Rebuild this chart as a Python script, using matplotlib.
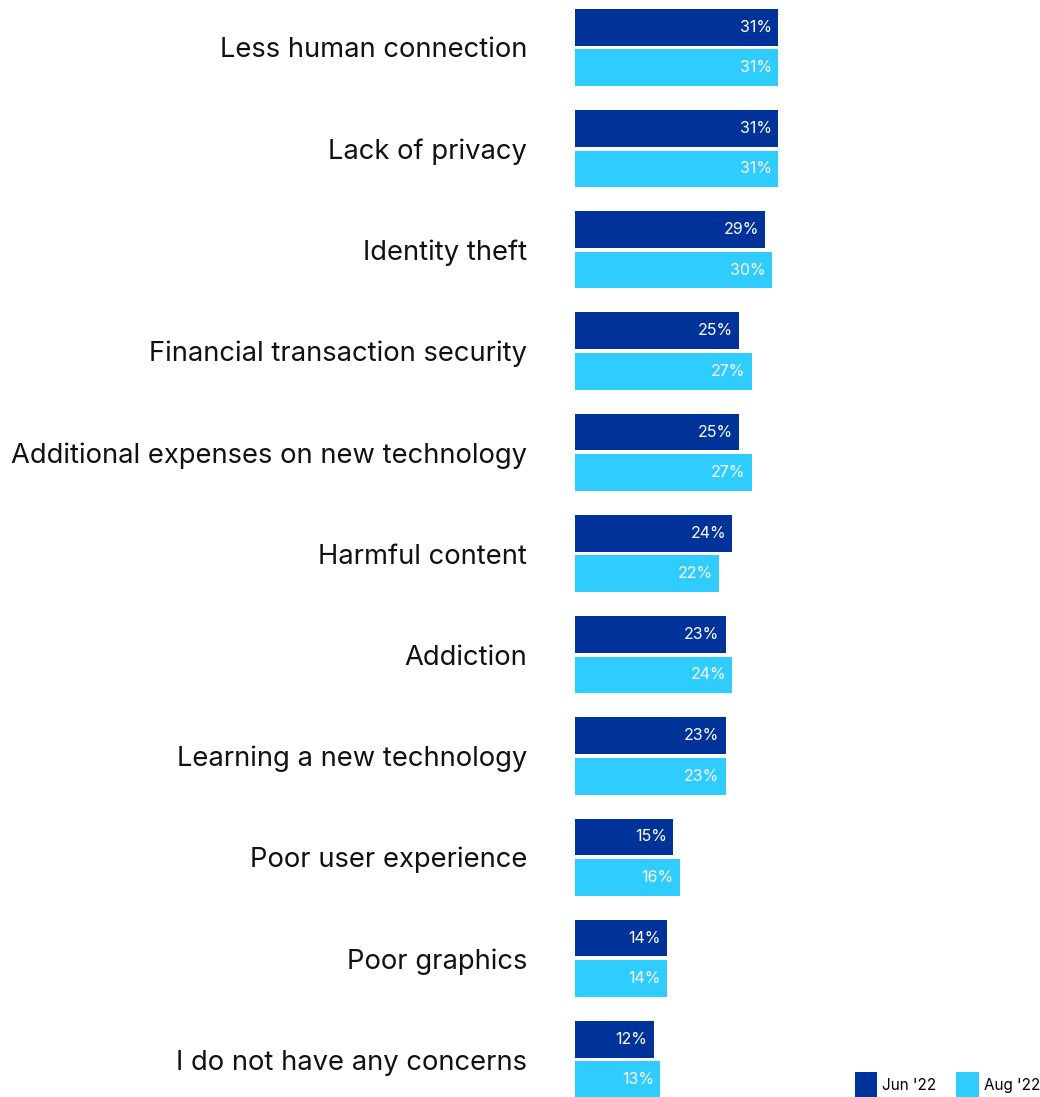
import matplotlib
matplotlib.use("Agg")
import matplotlib.pyplot as plt
from matplotlib.patches import Patch

plt.rcParams['font.family'] = ['Inter', 'DejaVu Sans']

categories = [
    "Less human connection",
    "Lack of privacy",
    "Identity theft",
    "Financial transaction security",
    "Additional expenses on new technology",
    "Harmful content",
    "Addiction",
    "Learning a new technology",
    "Poor user experience",
    "Poor graphics",
    "I do not have any concerns",
]
jun_22 = [31, 31, 29, 25, 25, 24, 23, 23, 15, 14, 12]
aug_22 = [31, 31, 30, 27, 27, 22, 24, 23, 16, 14, 13]
series_names = ["Jun '22", "Aug '22"]
colors = ["#003399", "#2ECCFF"]

W, H = 1040, 1097
fig = plt.figure(figsize=(W / 100, H / 100), dpi=100)
ax = fig.add_axes([575 / W, 0, (W - 575) / W, 1])

n = len(categories)
ys = list(range(n))
bar_h = 0.363
off = 0.2

ax.barh([y - off for y in ys], jun_22, height=bar_h, color=colors[0], align='center')
ax.barh([y + off for y in ys], aug_22, height=bar_h, color=colors[1], align='center')

for y, v in zip(ys, jun_22):
    ax.annotate(f"{v}%", (v, y - off), xytext=(-4.5, 0), textcoords='offset points',
                ha='right', va='center', color='white', fontsize=11.5)
for y, v in zip(ys, aug_22):
    ax.annotate(f"{v}%", (v, y + off), xytext=(-4.5, 0), textcoords='offset points',
                ha='right', va='center', color='white', fontsize=11.5)

ax.set_xlim(0, (W - 575) / 6.55)
ax.set_ylim(10.37, -0.469)
ax.set_yticks(ys)
ax.set_yticklabels(categories, fontsize=19.7, color='#111111')
ax.tick_params(axis='y', length=0, pad=34.5)
ax.tick_params(axis='x', bottom=False, labelbottom=False)
for s in ax.spines.values():
    s.set_visible(False)

handles = [Patch(facecolor=c, edgecolor='none', label=l) for c, l in zip(colors, series_names)]
fig.legend(handles=handles, loc='lower right', bbox_to_anchor=(1.0, 0.0), ncol=2,
           frameon=False, fontsize=11, handlelength=1.5, handleheight=2.1,
           handletextpad=0.3, columnspacing=1.3, borderaxespad=0.0, borderpad=0.0)

fig.savefig("out.png", dpi=100)
